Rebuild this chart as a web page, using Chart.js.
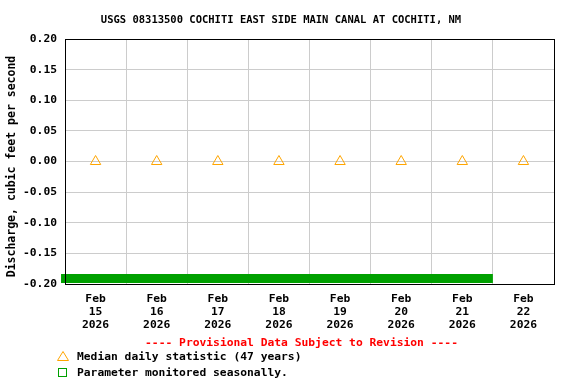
<!DOCTYPE html>
<html><head><meta charset="utf-8">
<script src="https://cdn.jsdelivr.net/npm/chart.js@4.4.1/dist/chart.umd.min.js"></script>
<style>html,body{margin:0;padding:0;background:#fff;}#wrap{width:576px;height:384px;position:relative;}</style>
</head><body><div id="wrap"><canvas id="c" width="576" height="384"></canvas></div>
<script>
const titleText = 'USGS 08313500 COCHITI EAST SIDE MAIN CANAL AT COCHITI, NM';
const yAxisTitle = 'Discharge, cubic feet per second';
const provisionalText = '---- Provisional Data Subject to Revision ----';
const legendMedian = 'Median daily statistic (47 years)';
const legendSeasonal = 'Parameter monitored seasonally.';
const dayMonths = ['Feb','Feb','Feb','Feb','Feb','Feb','Feb','Feb'];
const dayNumbers = ['15','16','17','18','19','20','21','22'];
const dayYears = ['2026','2026','2026','2026','2026','2026','2026','2026'];
// day offsets from Feb 15 00:00 (noon of each day)
const medianDays = [0.5,1.5,2.5,3.5,4.5,5.5,6.5,7.5];
const medianValues = [0,0,0,0,0,0,0,0];
// seasonal monitoring band
const seasonalDays = [-0.065, 7.0];
const seasonalLevels = [-0.191, -0.191];
const yMin = -0.2, yMax = 0.2, yStep = 0.05;
const xMin = 0, xMax = 8;

const FONT = '"DejaVu Sans Mono", monospace';
const GREEN = '#00a000';
const ORANGE = '#ffa500';

const decor = {
  id: 'decor',
  afterDatasetsDraw(chart) {
    const ctx = chart.ctx, a = chart.chartArea;
    ctx.save();
    ctx.strokeStyle = '#000'; ctx.lineWidth = 1;
    ctx.strokeRect(a.left + 0.5, a.top + 0.5, a.right - a.left, a.bottom - a.top);
    ctx.restore();
  },
  afterDraw(chart) {
    const ctx = chart.ctx;
    ctx.save();
    ctx.textBaseline = 'middle';
    ctx.fillStyle = '#000';
    ctx.font = 'bold 10.5px ' + FONT;
    ctx.textAlign = 'center';
    ctx.fillText(titleText, 281, 20);
    // y title
    ctx.save();
    ctx.translate(12, 166.5);
    ctx.rotate(-Math.PI / 2);
    ctx.font = 'bold 11.5px ' + FONT;
    ctx.fillText(yAxisTitle, 0, 0);
    ctx.restore();
    // provisional
    ctx.font = 'bold 11.3px ' + FONT;
    ctx.fillStyle = '#ff0000';
    ctx.fillText(provisionalText, 301.5, 343);
    ctx.fillStyle = '#000';
    ctx.textAlign = 'left';
    ctx.fillText(legendMedian, 77, 357);
    ctx.fillText(legendSeasonal, 77, 373);
    // legend symbols
    ctx.lineWidth = 1;
    ctx.strokeStyle = ORANGE;
    ctx.beginPath();
    ctx.moveTo(63, 351.5); ctx.lineTo(68.5, 360.5); ctx.lineTo(57.5, 360.5); ctx.closePath();
    ctx.stroke();
    ctx.strokeStyle = GREEN;
    ctx.strokeRect(58.5, 368.5, 8, 8);
    ctx.restore();
  }
};

new Chart(document.getElementById('c'), {
  type: 'scatter',
  data: {
    datasets: [
      {
        label: 'Seasonal',
        type: 'line',
        data: seasonalDays.map((d, i) => ({x: d, y: seasonalLevels[i]})),
        borderColor: GREEN,
        borderWidth: 9,
        borderCapStyle: 'butt',
        pointRadius: 0,
        showLine: true,
        clip: false,
        order: 2
      },
      {
        label: 'Median',
        data: medianDays.map((d, i) => ({x: d, y: medianValues[i]})),
        pointStyle: 'triangle',
        pointRadius: 6,
        pointHoverRadius: 6,
        borderColor: ORANGE,
        backgroundColor: 'rgba(0,0,0,0)',
        borderWidth: 1,
        order: 1
      }
    ]
  },
  options: {
    responsive: false,
    devicePixelRatio: 1,
    animation: false,
    layout: {padding: {top: 39, right: 22, bottom: 0, left: 0}},
    plugins: {legend: {display: false}, title: {display: false}, tooltip: {enabled: false}},
    scales: {
      x: {
        type: 'linear',
        min: xMin, max: xMax,
        afterFit(s) { s.height = 100; },
        afterBuildTicks(s) {
          const t = [];
          for (let i = 0; i <= (xMax - xMin) * 2; i++) t.push({value: xMin + i / 2});
          s.ticks = t;
        },
        border: {display: false},
        grid: {
          drawTicks: false,
          color: (c) => (c.tick && Number.isInteger(c.tick.value)) ? '#cccccc' : 'rgba(0,0,0,0)'
        },
        ticks: {
          autoSkip: false, maxRotation: 0, minRotation: 0,
          padding: 9,
          color: '#000',
          font: {family: FONT, size: 11.3, weight: 'bold', lineHeight: 1.12},
          callback(v) {
            if (Number.isInteger(v)) return '';
            const i = Math.floor(v - xMin);
            return [dayMonths[i], dayNumbers[i], dayYears[i]];
          }
        }
      },
      y: {
        min: yMin, max: yMax,
        afterFit(s) { s.width = 65; },
        border: {display: false},
        grid: {drawTicks: false, color: '#cccccc'},
        ticks: {
          stepSize: yStep,
          padding: 8,
          color: '#000',
          font: {family: FONT, size: 11.3, weight: 'bold'},
          callback(v) { return (Math.abs(v) < 1e-9 ? 0 : v).toFixed(2); }
        }
      }
    }
  },
  plugins: [decor]
});
</script></body></html>
